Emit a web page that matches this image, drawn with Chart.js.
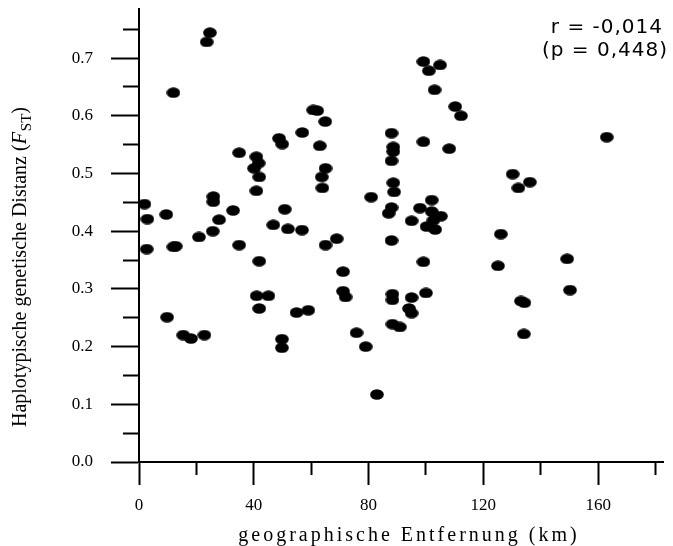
<!DOCTYPE html>
<html lang="de">
<head>
  <meta charset="UTF-8">
  <title>Haplotypische genetische Distanz</title>
  <script src="https://cdn.jsdelivr.net/npm/chart.js"></script>
  <style>
    html, body { margin: 0; padding: 0; background: #fff; }
  </style>
</head>
<body>
  <canvas id="chart" width="673" height="546"></canvas>

  <script>
    // geographische Entfernung (km) und F_ST, Paar fuer Paar
    const distanz = [
      1.9, 2.9, 2.7, 9.5, 9.8, 12.0, 12.0, 12.8, 15.4, 18.1,
      20.9, 22.8, 23.6, 24.7, 25.9, 25.9, 25.7, 27.9, 32.8, 34.9,
      34.9, 40.1, 40.9, 41.7, 41.9, 40.9, 41.9, 41.0, 45.1, 41.9,
      46.8, 48.8, 49.9, 50.8, 49.8, 49.8, 51.9, 54.9, 56.8, 56.9,
      59.0, 60.7, 62.1, 63.0, 63.7, 63.9, 64.9, 65.0, 65.0, 68.9,
      71.1, 71.1, 72.0, 75.8, 79.0, 80.9, 82.9, 87.0, 88.0, 88.0,
      88.6, 88.6, 88.0, 88.6, 88.9, 88.0, 88.3, 88.3, 88.3, 90.9,
      94.1, 95.0, 95.0, 95.0, 97.9, 99.1, 101.0, 104.9, 103.0, 99.1,
      99.1, 100.0, 100.2, 102.0, 102.0, 102.6, 103.2, 105.2, 108.1, 110.2,
      112.2, 125.1, 126.1, 130.2, 132.2, 136.2, 133.1, 134.3, 134.1, 149.2,
      150.2, 163.0
    ];
    const fst = [
      0.447, 0.421, 0.369, 0.429, 0.251, 0.640, 0.373, 0.374, 0.220, 0.214,
      0.390, 0.220, 0.728, 0.744, 0.460, 0.451, 0.400, 0.420, 0.436, 0.536,
      0.376, 0.509, 0.529, 0.518, 0.494, 0.470, 0.348, 0.288, 0.288, 0.266,
      0.411, 0.561, 0.551, 0.438, 0.213, 0.198, 0.404, 0.259, 0.402, 0.571,
      0.263, 0.610, 0.609, 0.548, 0.494, 0.475, 0.590, 0.509, 0.376, 0.387,
      0.330, 0.296, 0.286, 0.224, 0.200, 0.459, 0.117, 0.431, 0.441, 0.570,
      0.546, 0.538, 0.522, 0.484, 0.468, 0.384, 0.291, 0.281, 0.239, 0.234,
      0.266, 0.258, 0.285, 0.418, 0.440, 0.694, 0.678, 0.688, 0.645, 0.555,
      0.347, 0.293, 0.408, 0.454, 0.434, 0.419, 0.403, 0.426, 0.543, 0.616,
      0.600, 0.340, 0.395, 0.499, 0.475, 0.485, 0.279, 0.276, 0.222, 0.352,
      0.298, 0.563
    ];
    const xTicks = [0, 20, 40, 60, 80, 100, 120, 140, 160, 180];
    const yTicks = [0, 0.05, 0.1, 0.15, 0.2, 0.25, 0.3, 0.35, 0.4, 0.45, 0.5, 0.55, 0.6, 0.65, 0.7, 0.75];
    const xTitle = 'geographische Entfernung (km)';
    const yTitle = 'Haplotypische genetische Distanz (';
    const statLines = ['r = -0,014', '(p = 0,448)'];

    // ovaler Punkt wie im Original
    const dot = document.createElement('canvas');
    dot.width = 14;
    dot.height = 11;
    const dctx = dot.getContext('2d');
    dctx.fillStyle = '#000';
    dctx.beginPath();
    dctx.ellipse(7, 5.5, 6.8, 5.3, 0, 0, Math.PI * 2);
    dctx.fill();

    const isMajorX = v => v % 40 === 0;
    const isMajorY = v => Math.round(v * 100) % 10 === 0;

    const textPlugin = {
      id: 'texte',
      afterDraw(chart) {
        const c = chart.ctx;
        const area = chart.chartArea;
        c.save();
        c.fillStyle = '#000';

        // x-Achsentitel
        c.font = '20px "Liberation Serif"';
        c.letterSpacing = '3px';
        c.textAlign = 'center';
        c.textBaseline = 'alphabetic';
        c.fillText(xTitle, (area.left + area.right) / 2 + 8, 541);

        // y-Achsentitel mit F kursiv und ST tiefgestellt
        c.letterSpacing = '0px';
        c.textAlign = 'left';
        const fontMain = '20px "Liberation Serif"';
        const fontIt = 'italic 20px "Liberation Serif"';
        const fontSub = '15px "Liberation Serif"';
        c.font = fontMain;
        const w1 = c.measureText(yTitle).width;
        const w4 = c.measureText(')').width;
        c.font = fontIt;
        const w2 = c.measureText('F').width + 1;
        c.font = fontSub;
        const w3 = c.measureText('ST').width;
        const total = w1 + w2 + w3 + w4;
        c.translate(26, 267);
        c.rotate(-Math.PI / 2);
        let x = -total / 2;
        c.font = fontMain;
        c.fillText(yTitle, x, 0);
        x += w1;
        c.font = fontIt;
        c.fillText('F', x, 0);
        x += w2;
        c.font = fontSub;
        c.fillText('ST', x, 5);
        x += w3;
        c.font = fontMain;
        c.fillText(')', x, 0);
        c.setTransform(1, 0, 0, 1, 0, 0);

        // Korrelation
        c.font = '20px "DejaVu Sans"';
        c.letterSpacing = '1px';
        c.textAlign = 'right';
        c.fillText(statLines[0], 663, 33);
        c.fillText(statLines[1], 668, 56);
        c.restore();
      }
    };

    const ctx = document.getElementById('chart').getContext('2d');
    new Chart(ctx, {
      type: 'scatter',
      data: {
        datasets: [{
          data: distanz.map((d, i) => ({ x: d, y: fst[i] })),
          pointStyle: dot,
          pointRadius: 7,
          pointHoverRadius: 7,
          backgroundColor: '#000',
          borderColor: '#000'
        }]
      },
      options: {
        responsive: false,
        animation: false,
        devicePixelRatio: 1,
        layout: { padding: { left: 0, top: 9, right: 10, bottom: 0 } },
        plugins: {
          legend: { display: false },
          tooltip: { enabled: false }
        },
        scales: {
          x: {
            type: 'linear',
            min: 0,
            max: 182.6,
            afterBuildTicks: s => { s.ticks = xTicks.map(v => ({ value: v })); },
            afterFit: s => {
              s.height = 84;
              s.paddingLeft = 0;
              s.paddingRight = 0;
            },
            ticks: {
              autoSkip: false,
              maxRotation: 0,
              padding: 10,
              color: '#000',
              font: { family: 'Liberation Serif', size: 17 },
              callback: v => isMajorX(v) ? String(v) : ''
            },
            grid: {
              drawOnChartArea: false,
              tickLength: 23,
              tickWidth: 2,
              tickColor: '#000',
              tickBorderDash: c => (c.tick && !isMajorX(c.tick.value)) ? [12, 100] : []
            },
            border: { color: '#000', width: 2 }
          },
          y: {
            type: 'linear',
            min: 0,
            max: 0.785,
            afterBuildTicks: s => { s.ticks = yTicks.map(v => ({ value: v })); },
            afterFit: s => {
              s.width = 139;
              s.paddingTop = 0;
              s.paddingBottom = 0;
            },
            ticks: {
              autoSkip: false,
              padding: 18,
              color: '#000',
              font: { family: 'Liberation Serif', size: 17 },
              callback: v => isMajorY(v) ? v.toFixed(1) : ''
            },
            grid: {
              drawOnChartArea: false,
              tickLength: 28,
              tickWidth: 2,
              tickColor: '#000',
              tickBorderDash: c => (c.tick && !isMajorY(c.tick.value)) ? [0, 12, 16, 100] : []
            },
            border: { color: '#000', width: 2 }
          }
        }
      },
      plugins: [textPlugin]
    });
  </script>
</body>
</html>
